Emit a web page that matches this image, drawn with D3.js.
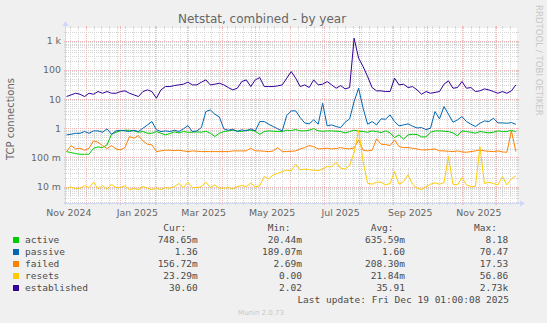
<!DOCTYPE html>
<html><head><meta charset="utf-8">
<script src="https://cdn.jsdelivr.net/npm/d3@7"></script>
<style>html,body{margin:0;padding:0;background:#f0f0f0;}svg{display:block}</style>
</head><body><svg id="c" width="547" height="323"></svg>
<script>
// ---- data (one point every 4 days starting 2024-11-14) ----
const seriesStart = Date.UTC(2024, 10, 14);
const stepDays = 4;
const seriesNames = ["active", "passive", "failed", "resets", "established"];
const seriesColors = ["#00CC00", "#0066B3", "#FF8000", "#FFCC00", "#330099"];
const active = [0.158,0.146,0.135,0.128,0.128,0.128,0.206,0.229,0.217,0.268,
 0.62,0.729,0.81,0.854,0.854,0.81,0.729,0.769,0.674,0.674,
 0.769,0.674,0.59,0.656,0.749,0.692,0.769,0.729,0.729,0.749,
 0.729,0.789,0.674,0.518,0.674,0.769,0.81,0.854,0.81,0.769,
 0.854,0.854,0.789,0.62,0.769,0.81,0.789,0.769,0.769,0.854,
 0.832,0.9,0.81,0.81,0.854,0.974,0.81,0.789,0.81,0.81,
 0.789,0.769,0.692,0.769,0.854,0.789,0.769,0.729,0.81,0.769,
 0.71,0.81,0.692,0.479,0.59,0.42,0.59,0.62,0.607,0.505,
 0.505,0.729,0.81,0.81,0.789,0.769,0.692,0.546,0.81,0.769,
 0.729,0.674,0.769,0.729,0.692,0.729,0.81,0.769,0.769,0.854,
 0.749];
const passive = [0.59,0.62,0.67,0.67,0.77,0.67,0.81,0.81,0.73,0.95,
 0.62,0.81,0.85,0.81,0.77,0.85,0.77,1.0,1.30,1.69,
 0.88,0.77,0.81,0.77,0.85,0.77,0.95,1.23,0.77,0.81,
 1.05,3.73,4.25,3.02,2.45,0.95,0.85,0.92,0.77,0.88,
 0.81,0.95,0.81,1.69,1.69,1.37,1.14,0.95,0.81,2.72,
 3.93,3.93,2.32,1.52,1.41,1.93,1.37,7.2,1.20,1.30,
 1.14,1.05,1.61,2.09,8.2,23.5,4.85,1.37,1.69,1.30,
 2.09,2.04,2.86,1.69,1.20,1.30,1.41,1.17,1.02,1.05,
 0.90,1.0,3.73,2.09,5.53,3.02,1.61,1.93,2.51,1.69,
 1.37,1.14,1.48,1.78,1.69,2.20,1.52,1.52,1.48,1.56,
 1.36];
const failed = [0.158,0.254,0.195,0.206,0.176,0.206,0.368,0.331,0.254,0.201,
 0.254,0.195,0.181,0.217,0.518,0.454,0.56,0.368,0.283,0.268,
 0.158,0.167,0.176,0.176,0.171,0.176,0.167,0.158,0.167,0.162,
 0.158,0.158,0.158,0.158,0.158,0.158,0.158,0.167,0.167,0.167,
 0.167,0.206,0.167,0.167,0.162,0.158,0.167,0.217,0.158,0.158,
 0.162,0.167,0.195,0.217,0.254,0.235,0.195,0.201,0.206,0.195,
 0.201,0.217,0.201,0.195,0.211,0.399,0.176,0.167,0.176,0.431,
 0.283,0.275,0.254,0.399,0.235,0.217,0.217,0.206,0.195,0.181,
 0.181,0.186,0.195,0.167,0.167,0.162,0.158,0.167,0.154,0.150,
 0.158,0.167,0.181,0.167,0.162,0.158,0.167,0.154,0.150,0.81,
 0.157];
const resets = [0.00877,0.00974,0.00832,0.00877,0.0108,0.00924,0.0141,0.00832,0.0108,0.00811,
 0.0120,0.00924,0.00924,0.0108,0.00769,0.00877,0.00789,0.0100,0.00877,0.00789,
 0.00877,0.00789,0.00924,0.00877,0.0100,0.0127,0.00924,0.0141,0.00924,0.00924,
 0.0100,0.0141,0.00924,0.0114,0.00877,0.00877,0.00924,0.00832,0.0100,0.0108,
 0.0100,0.0130,0.00974,0.0108,0.0220,0.0183,0.0251,0.0286,0.0327,0.0363,
 0.0344,0.0583,0.0373,0.0393,0.0383,0.0363,0.0354,0.0403,0.0485,0.0472,
 0.0683,0.0425,0.0403,0.0525,0.15,0.85,0.072,0.0130,0.0120,0.0141,
 0.0141,0.0114,0.0127,0.0327,0.0120,0.0148,0.0251,0.0120,0.00877,0.00789,
 0.00974,0.0120,0.0134,0.0120,0.0137,0.107,0.0120,0.0114,0.0204,0.0114,
 0.0100,0.01026,0.235,0.0127,0.0141,0.0127,0.0114,0.0220,0.0114,0.0183,
 0.0233];
const established = [12.2,13.9,15.8,14.6,12.2,15.8,14.6,18.1,15.8,18.1,
 15.8,15.8,18.1,19.1,15.8,13.9,12.2,18.1,20.6,18.1,
 10.7,20.6,26.8,26.8,29.0,30.6,32.3,37.8,30.6,30.6,
 37.8,45.4,30.6,32.3,34.9,30.6,24.8,20.6,23.5,39.8,
 45.4,26.8,45.4,54.6,26.8,26.8,26.8,28.3,30.6,51.8,
 87.7,51.8,26.8,30.6,24.8,45.4,30.6,32.3,39.8,30.6,
 23.5,29.0,22.3,24.8,1219,251,130,59,24.8,19.1,
 19.1,18.1,18.1,51.8,30.6,32.3,24.8,26.8,20.6,14.6,
 18.1,15.8,16.9,18.1,32.3,42.0,23.5,24.8,39.8,23.5,
 24.8,18.1,19.1,22.3,20.6,18.1,15.8,18.1,15.8,19.1,
 30.6];

const yTickValues = [1e3, 100, 10, 1, 0.1, 0.01];
const yTickLabels = ["1 k", "100", "10", "1", "100 m", "10 m"];
const xTickLabels = ["Nov 2024", "Jan 2025", "Mar 2025", "May 2025", "Jul 2025", "Sep 2025", "Nov 2025"];
const xTickMonths = [[2024,10],[2025,0],[2025,2],[2025,4],[2025,6],[2025,8],[2025,10]];

const legendHeaders = ["Cur:", "Min:", "Avg:", "Max:"];
const curValues = ["748.65m", "1.36 ", "156.72m", "23.29m", "30.60 "];
const minValues = ["20.44m", "189.07m", "2.69m", "0.00 ", "2.02 "];
const avgValues = ["635.59m", "1.60 ", "208.30m", "21.84m", "35.91 "];
const maxValues = ["8.18 ", "70.47 ", "17.53 ", "56.86 ", "2.73k"];
const titleText = "Netstat, combined - by year";
const yAxisTitle = "TCP connections";
const lastUpdate = "Last update: Fri Dec 19 01:00:08 2025";
const watermark = "Munin 2.0.73";
const sideText = "RRDTOOL / TOBI OETIKER";

// ---- drawing ----
const W = 547, H = 323;
const X0 = 66, X1 = 517, Y0 = 203, Y1 = 28;
const svg = d3.select("#c");
svg.append("rect").attr("width", W).attr("height", H).attr("fill", "#f0f0f0");
svg.append("rect").attr("x", X0).attr("y", Y1).attr("width", X1 - X0).attr("height", Y0 - Y1).attr("fill", "#ffffff");

const x = d3.scaleUtc().domain([new Date(Date.UTC(2024, 10, 13, 12)), new Date(Date.UTC(2025, 11, 20))]).range([X0, X1]);
const y = d3.scaleLog().domain([2.73e-3, 2.73e3]).range([Y0, Y1]);

const MINOR = "#d6d6d6", MAJOR = "#f2b4b4";
const grid = svg.append("g").attr("shape-rendering", "crispEdges");

function hLine(v, col) {
  const py = Math.round(y(v)) + 0.5;
  grid.append("line").attr("x1", X0).attr("x2", X1).attr("y1", py).attr("y2", py)
    .attr("stroke", col).attr("stroke-dasharray", "1,1");
  grid.append("line").attr("x1", X0 - 2).attr("x2", X0).attr("y1", py).attr("y2", py).attr("stroke", col);
  grid.append("line").attr("x1", X1).attr("x2", X1 + 2).attr("y1", py).attr("y2", py).attr("stroke", col);
}
function vLine(d, col) {
  const px = Math.round(x(d)) + 0.5;
  grid.append("line").attr("x1", px).attr("x2", px).attr("y1", Y1).attr("y2", Y0)
    .attr("stroke", col).attr("stroke-dasharray", "1,1");
  grid.append("line").attr("x1", px).attr("x2", px).attr("y1", Y0).attr("y2", Y0 + 2).attr("stroke", col);
  grid.append("line").attr("x1", px).attr("x2", px).attr("y1", Y1 - 2).attr("y2", Y1).attr("stroke", col);
}
const [ymin, ymax] = y.domain();
const minorVals = [], majorVals = [];
for (let e = -3; e <= 3; e++) for (let m = 1; m <= 9; m++) {
  const v = m * Math.pow(10, e);
  if (v >= ymin && v <= ymax) (m === 1 ? majorVals : minorVals).push(v);
}
const [d0, d1] = x.domain();
d3.utcSunday.range(d0, d1).forEach(d => vLine(d, MINOR));
minorVals.forEach(v => hLine(v, MINOR));
d3.utcMonth.range(d0, d1).forEach(d => vLine(d, MAJOR));
majorVals.forEach(v => hLine(v, MAJOR));

// axes
const AX = "#CFD6F8";
svg.append("line").attr("x1", X0 - 2).attr("x2", X1 + 4).attr("y1", Y0 + 0.5).attr("y2", Y0 + 0.5).attr("stroke", AX);
svg.append("line").attr("x1", X0 - 0.5).attr("x2", X0 - 0.5).attr("y1", Y0 + 2).attr("y2", Y1 - 4).attr("stroke", AX);
svg.append("path").attr("d", `M${X1 + 3},${Y0 - 2.5}L${X1 + 8},${Y0 + 0.5}L${X1 + 3},${Y0 + 3.5}Z`).attr("fill", AX);
svg.append("path").attr("d", `M${X0 - 3.5},${Y1 - 2}L${X0 - 0.5},${Y1 - 7}L${X0 + 2.5},${Y1 - 2}Z`).attr("fill", AX);

const FONT = "'DejaVu Sans', sans-serif";
const MONO = "'DejaVu Sans Mono', monospace";
const TXT = "#666666";

// y labels
svg.append("g").selectAll("text").data(yTickValues).join("text")
  .attr("x", 61).attr("y", d => y(d) + 3.5).attr("text-anchor", "end")
  .attr("font-family", FONT).attr("font-size", 9.4).attr("fill", TXT)
  .text((d, i) => yTickLabels[i]);

// x labels (rrdtool centres a month label in the middle of its month)
svg.append("g").selectAll("text").data(xTickMonths).join("text")
  .attr("x", d => x(new Date(Date.UTC(d[0], d[1], 16)))).attr("y", 216).attr("text-anchor", "middle")
  .attr("font-family", FONT).attr("font-size", 9.4).attr("fill", TXT)
  .text((d, i) => xTickLabels[i]);

// title etc
svg.append("text").attr("x", 262).attr("y", 22.5).attr("text-anchor", "middle")
  .attr("font-family", FONT).attr("font-size", 12).attr("fill", TXT).text(titleText);
svg.append("text").attr("transform", "translate(13.5,119) rotate(-90)").attr("text-anchor", "middle")
  .attr("font-family", FONT).attr("font-size", 10).attr("fill", TXT).text(yAxisTitle);
svg.append("text").attr("transform", "translate(536,5) rotate(90)").attr("text-anchor", "start")
  .attr("font-family", FONT).attr("font-size", 8.6).attr("fill", "#c8c8c8").text(sideText);

// lines
const dates = established.map((_, i) => new Date(seriesStart + i * stepDays * 864e5));
const allSeries = [active, passive, failed, resets, established];
const line = d3.line().x((d, i) => x(dates[i])).y(d => y(d));
const lg = svg.append("g");
allSeries.forEach((s, k) => {
  lg.append("path").attr("d", line(s)).attr("fill", "none")
    .attr("stroke", seriesColors[k]).attr("stroke-width", 1).attr("stroke-linejoin", "round");
});

// legend
const CW = 5.72;
const colEdges = [197.7, 302, 405, 508.3];
const leg = svg.append("g").attr("font-family", MONO).attr("font-size", 9.5).attr("fill", "#4a4a4a")
  .attr("xml:space", "preserve").style("white-space", "pre");
legendHeaders.forEach((h, c) => {
  leg.append("text").attr("x", colEdges[c] - 2 * CW).attr("y", 231).attr("text-anchor", "end").text(h);
});
const cols = [curValues, minValues, avgValues, maxValues];
seriesNames.forEach((n, r) => {
  const by = 243 + r * 12;
  leg.append("rect").attr("x", 13).attr("y", by - 6).attr("width", 6).attr("height", 6).attr("fill", seriesColors[r]);
  leg.append("text").attr("x", 25).attr("y", by).text(n);
  cols.forEach((col, c) => {
    leg.append("text").attr("x", colEdges[c]).attr("y", by).attr("text-anchor", "end").text(col[r]);
  });
});
leg.append("text").attr("x", 509).attr("y", 302.5).attr("text-anchor", "end").text(lastUpdate);
svg.append("text").attr("x", 261).attr("y", 315).attr("text-anchor", "middle")
  .attr("font-family", FONT).attr("font-size", 7).attr("fill", "#c8c8c8").text(watermark);
</script></body></html>
